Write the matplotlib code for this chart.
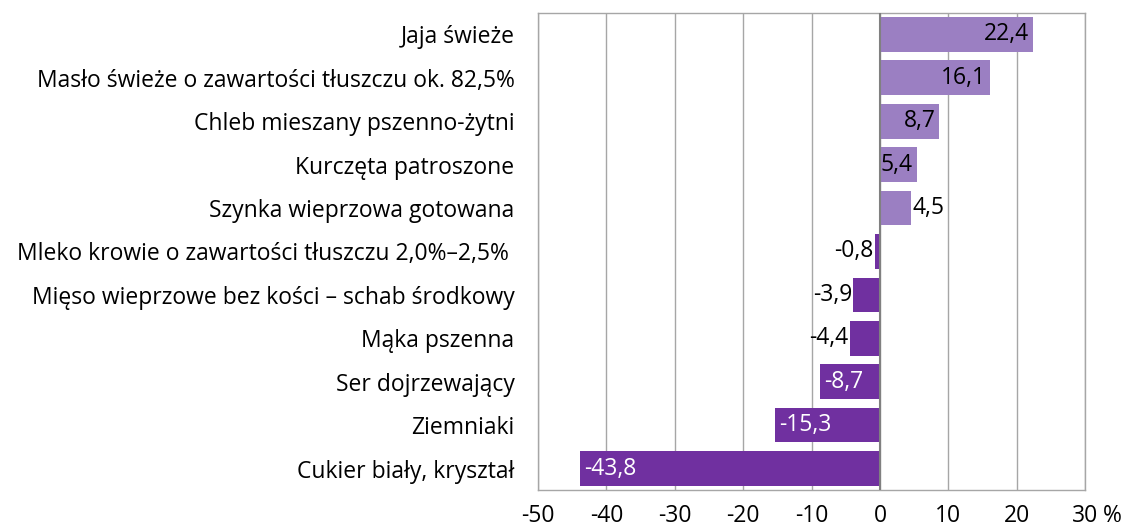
import matplotlib
matplotlib.use("Agg")
import matplotlib.pyplot as plt

plt.rcParams['font.family'] = ['Open Sans', 'DejaVu Sans']

products = [
    "Jaja świeże",
    "Masło świeże o zawartości tłuszczu ok. 82,5%",
    "Chleb mieszany pszenno-żytni",
    "Kurczęta patroszone",
    "Szynka wieprzowa gotowana",
    "Mleko krowie o zawartości tłuszczu 2,0%–2,5% ",
    "Mięso wieprzowe bez kości – schab środkowy",
    "Mąka pszenna",
    "Ser dojrzewający",
    "Ziemniaki",
    "Cukier biały, kryształ",
]
change = [22.4, 16.1, 8.7, 5.4, 4.5, -0.8, -3.9, -4.4, -8.7, -15.3, -43.8]
xticks = [-50, -40, -30, -20, -10, 0, 10, 20, 30]

light = "#9b7fc2"
dark = "#7030a0"
grid_c = "#a6a6a6"
fs = 16.5

fig = plt.figure(figsize=(11.28, 5.3), dpi=100)
ax = fig.add_axes([0.477, 0.075, 0.485, 0.901])

ypos = list(range(len(products)))
colors = [light if v >= 0 else dark for v in change]
ax.barh(ypos, change, height=0.8, color=colors, zorder=2)

ax.set_xlim(-50, 30)
ax.set_ylim(len(products) - 0.5, -0.5)
ax.set_xticks(xticks)
ax.set_xticklabels([str(t) for t in xticks], fontsize=fs)
ax.set_yticks(ypos)
ax.set_yticklabels(products, fontsize=fs)
ax.tick_params(axis='y', length=0, pad=17)
ax.tick_params(axis='x', length=0, pad=10)
ax.grid(axis='x', color=grid_c, lw=1, zorder=0)
for s in ax.spines.values():
    s.set_color(grid_c)
    s.set_linewidth(1)
ax.axvline(0, color="#808080", lw=1.5, zorder=3)

# unit sign next to the last tick label
ax.annotate("%", xy=(1, 0), xycoords='axes fraction', xytext=(13, -10),
            textcoords='offset points', ha='left', va='top', fontsize=fs)

def fmt(v):
    return f"{v:.1f}".replace(".", ",")

for y, v in zip(ypos, change):
    txt = fmt(v)
    if v >= 0:
        if v > 5:
            ax.text(v - 0.6, y, txt, ha='right', va='center', fontsize=fs, color='black', zorder=4)
        else:
            ax.text(v + 0.2, y, txt, ha='left', va='center', fontsize=fs, color='black', zorder=4)
    else:
        if v > -5:
            ax.text(v - 0.2, y, txt, ha='right', va='center', fontsize=fs, color='black', zorder=4)
        else:
            ax.text(v + 0.6, y, txt, ha='left', va='center', fontsize=fs, color='white', zorder=4)

fig.savefig("out.png", dpi=100)
